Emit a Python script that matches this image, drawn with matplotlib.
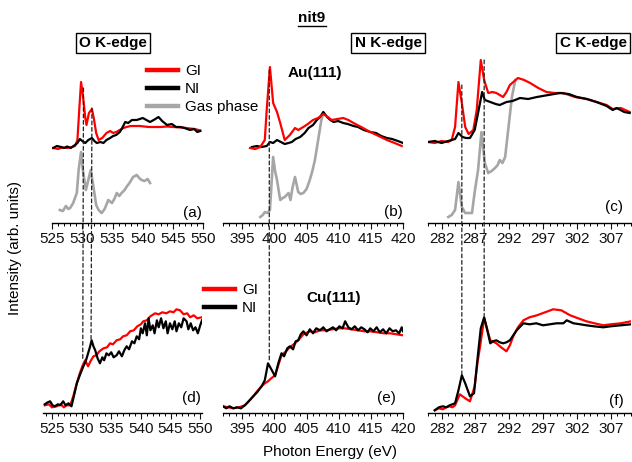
import matplotlib
matplotlib.use("Agg")
import matplotlib.pyplot as plt
from matplotlib.patches import ConnectionPatch
from matplotlib.lines import Line2D
from matplotlib.ticker import MultipleLocator

plt.rcParams['font.family'] = ['Liberation Sans', 'DejaVu Sans']

# ---------------- data (arbitrary units) ----------------
# O K-edge, Au(111)
o_au_gi_e = [525.2, 526.0, 526.7, 527.5, 528.3, 528.8, 529.2, 529.5, 529.8, 530.1, 530.5, 530.7, 531.1,
             531.6, 531.9, 532.3, 532.7, 533.3, 534.0, 534.6, 535.1, 535.6, 536.2, 536.8, 537.3, 538.0,
             539.5, 541.0, 542.9, 544.0, 545.0, 546.5, 547.8, 548.6, 549.5]
o_au_gi_i = [0.75, 0.74, 0.755, 0.75, 0.76, 0.77, 0.83, 1.13, 1.41, 1.28, 1.05, 0.98, 1.10,
             1.14, 1.05, 0.90, 0.83, 0.85, 0.90, 0.92, 0.90, 0.91, 0.93, 0.95, 0.96, 0.97,
             0.97, 0.96, 0.96, 0.965, 0.96, 0.955, 0.945, 0.94, 0.925]
o_au_ni_e = [525.2, 525.8, 526.5, 527.0, 527.5, 528.1, 528.8, 529.2, 529.6, 530.0, 530.5, 531.0, 531.6,
             532.0, 532.4, 533.0, 533.5, 534.0, 534.6, 535.1, 535.6, 536.2, 536.6, 537.1, 537.6, 538.2,
             539.0, 539.5, 540.0, 540.6, 541.2, 541.8, 542.6, 543.2, 544.0, 544.8, 545.5, 546.2, 546.9,
             547.8, 548.5, 549.0, 549.5]
o_au_ni_i = [0.75, 0.77, 0.76, 0.75, 0.765, 0.75, 0.78, 0.80, 0.84, 0.82, 0.80, 0.83, 0.85,
             0.82, 0.80, 0.81, 0.80, 0.83, 0.85, 0.87, 0.88, 0.91, 0.95, 1.01, 1.00, 1.03,
             1.03, 1.04, 1.05, 1.03, 1.01, 1.03, 1.06, 1.02, 0.98, 0.99, 0.96, 0.96, 0.95,
             0.93, 0.94, 0.91, 0.92]
o_gas_e = [526.3, 526.8, 527.3, 527.7, 528.0, 528.5, 529.1, 529.4, 529.8, 530.1, 530.6, 531.0, 531.4,
           531.8, 532.3, 532.7, 533.2, 533.7, 534.3, 534.9, 535.3, 535.7, 536.1, 536.5, 537.0, 537.3,
           537.8, 538.4, 539.0, 539.4, 539.8, 540.3, 540.8, 541.2]
o_gas_i = [0.13, 0.12, 0.17, 0.14, 0.15, 0.20, 0.30, 0.53, 0.71, 0.53, 0.33, 0.43, 0.53,
           0.38, 0.18, 0.13, 0.10, 0.14, 0.23, 0.20, 0.24, 0.30, 0.27, 0.30, 0.33, 0.36,
           0.40, 0.46, 0.48, 0.45, 0.43, 0.42, 0.44, 0.40]

# N K-edge, Au(111)
n_au_gi_e = [396.2, 397.0, 397.8, 398.5, 398.8, 399.3, 399.8, 400.4, 400.9, 401.6, 402.4, 403.2, 403.7,
             404.5, 405.2, 406.0, 406.8, 407.6, 408.3, 408.9, 409.8, 410.7, 411.5, 412.3, 413.5, 414.9,
             416.2, 417.5, 418.7, 419.8]
n_au_gi_i = [0.75, 0.74, 0.76, 0.83, 1.13, 1.56, 1.20, 1.11, 1.00, 0.83, 0.88, 0.95, 0.93,
             0.96, 0.99, 1.03, 1.05, 1.09, 1.06, 1.03, 1.04, 1.05, 1.03, 1.00, 0.96, 0.91,
             0.87, 0.83, 0.80, 0.77]
n_au_ni_e = [396.5, 397.3, 398.0, 398.8, 399.3, 399.8, 400.4, 401.0, 401.6, 402.2, 402.7, 403.3, 404.0,
             404.7, 405.3, 406.0, 406.6, 407.1, 407.6, 408.2, 408.7, 409.2, 409.9, 410.7, 411.4, 412.3,
             413.0, 413.9, 414.9, 415.8, 416.6, 417.5, 418.3, 419.2, 420.0]
n_au_ni_i = [0.76, 0.77, 0.76, 0.77, 0.81, 0.80, 0.83, 0.81, 0.79, 0.80, 0.81, 0.84, 0.86,
             0.90, 0.95, 0.98, 1.03, 1.06, 1.11, 1.06, 1.03, 1.01, 1.02, 1.00, 0.99, 0.97,
             0.96, 0.93, 0.91, 0.90, 0.87, 0.85, 0.84, 0.82, 0.80]
n_gas_e = [397.8, 398.2, 398.5, 398.9, 399.3, 399.8, 400.1, 400.4, 400.9, 401.3, 401.6, 402.2, 402.5,
           402.8, 403.2, 403.7, 404.1, 404.5, 405.0, 405.5, 405.9, 406.3, 406.8, 407.3, 407.6]
n_gas_i = [0.06, 0.08, 0.11, 0.10, 0.13, 0.66, 0.52, 0.43, 0.23, 0.25, 0.26, 0.30, 0.23,
           0.35, 0.46, 0.31, 0.29, 0.30, 0.34, 0.43, 0.52, 0.63, 0.83, 1.03, 1.10]

# C K-edge, Au(111)
c_au_gi_e = [280.0, 281.0, 282.0, 283.0, 283.5, 284.0, 284.5, 285.0, 285.5, 286.0, 286.7, 287.2, 287.8,
             288.3, 288.9, 289.5, 290.1, 290.6, 291.1, 291.6, 292.1, 293.3, 294.2, 295.1, 296.3, 297.5,
             298.7, 300.0, 301.7, 303.4, 304.9, 306.4, 307.3, 308.5, 309.8]
c_au_gi_i = [0.81, 0.80, 0.82, 0.81, 0.83, 0.96, 1.41, 1.20, 0.96, 0.89, 0.93, 1.13, 1.63,
             1.43, 1.30, 1.31, 1.30, 1.28, 1.26, 1.31, 1.38, 1.45, 1.43, 1.40, 1.35, 1.31,
             1.30, 1.30, 1.26, 1.24, 1.21, 1.18, 1.14, 1.15, 1.11]
c_au_ni_e = [280.0, 281.0, 282.0, 283.0, 283.5, 284.0, 284.5, 285.1, 285.6, 286.2, 286.9, 287.4, 288.0,
             288.4, 289.2, 290.0, 290.6, 291.6, 292.5, 293.6, 294.8, 296.1, 297.8, 299.5, 300.8, 302.0,
             303.5, 304.9, 306.4, 307.3, 307.9, 309.0, 309.8]
c_au_ni_i = [0.81, 0.82, 0.80, 0.82, 0.83, 0.84, 0.90, 0.86, 0.85, 0.85, 0.93, 1.10, 1.31,
             1.23, 1.21, 1.19, 1.18, 1.21, 1.22, 1.25, 1.24, 1.26, 1.28, 1.30, 1.29, 1.26,
             1.24, 1.21, 1.17, 1.13, 1.15, 1.11, 1.10]
c_gas_e = [283.0, 283.5, 284.0, 284.5, 285.0, 285.5, 286.0, 286.5, 286.9, 287.4, 287.9, 288.4, 288.9,
           289.4, 289.9, 290.3, 290.6, 291.0, 291.4, 291.9, 292.4, 292.9]
c_gas_i = [0.06, 0.08, 0.13, 0.41, 0.16, 0.10, 0.10, 0.10, 0.31, 0.53, 0.91, 0.60, 0.50,
           0.52, 0.55, 0.58, 0.63, 0.60, 0.66, 0.96, 1.26, 1.43]

# O K-edge, Cu(111)
o_cu_gi_e = [523.8, 524.5, 525.0, 525.8, 526.5, 527.0, 527.5, 528.1, 528.6, 529.2, 529.7, 530.2, 530.6,
             531.1, 531.5, 532.0, 532.5, 533.0, 533.7, 534.3, 534.8, 535.3, 535.9, 536.5, 537.0, 537.6,
             538.2, 538.8, 539.4, 540.0, 540.4, 541.0, 541.6, 542.4, 543.0, 543.6, 544.3, 544.9, 545.5,
             546.0, 546.6, 547.2, 547.8, 548.3, 548.9, 549.5, 550.3]
o_cu_gi_i = [0.08, 0.09, 0.06, 0.07, 0.09, 0.06, 0.08, 0.08, 0.17, 0.30, 0.40, 0.48, 0.53,
             0.47, 0.52, 0.57, 0.58, 0.62, 0.65, 0.66, 0.70, 0.69, 0.73, 0.74, 0.77, 0.78,
             0.82, 0.83, 0.87, 0.89, 0.92, 0.93, 0.97, 1.00, 0.99, 1.01, 1.00, 1.02, 1.01,
             1.04, 1.03, 0.99, 1.00, 0.96, 0.98, 0.95, 0.96]
o_cu_ni_e = [523.8, 524.3, 524.7, 525.1, 525.5, 526.0, 526.4, 526.9, 527.3, 527.8, 528.3, 528.7, 529.2,
             529.7, 530.3, 530.7, 531.1, 531.4, 531.7, 532.0, 532.3, 532.7, 533.1, 533.5, 533.8, 534.2,
             534.6, 535.0, 535.4, 535.9, 536.3, 536.8, 537.2, 537.6, 538.0, 538.5, 538.9, 539.3, 539.7,
             540.0, 540.3, 540.7, 541.0, 541.3, 541.6, 542.0, 542.3, 542.7, 543.0, 543.4, 543.8, 544.2,
             544.5, 544.9, 545.3, 545.7, 546.0, 546.4, 546.8, 547.2, 547.7, 548.0, 548.4, 548.8, 549.2,
             549.6, 550.0, 550.3]
o_cu_ni_i = [0.09, 0.11, 0.12, 0.08, 0.07, 0.09, 0.08, 0.12, 0.08, 0.10, 0.07, 0.17, 0.30,
             0.38, 0.47, 0.52, 0.60, 0.66, 0.73, 0.67, 0.63, 0.55, 0.50, 0.56, 0.53, 0.60,
             0.58, 0.61, 0.56, 0.58, 0.62, 0.57, 0.63, 0.67, 0.64, 0.72, 0.70, 0.77, 0.74,
             0.85, 0.80, 0.90, 0.78, 0.95, 0.83, 0.88, 0.80, 0.93, 0.86, 0.95, 0.85, 0.92,
             0.80, 0.90, 0.84, 0.92, 0.82, 0.90, 0.86, 0.95, 0.92, 0.84, 0.90, 0.83, 0.86,
             0.80, 0.88, 0.93]

# N K-edge, Cu(111)
n_cu_gi_e = [392.0, 392.8, 393.6, 394.5, 395.4, 396.0, 396.7, 397.3, 398.0, 398.5, 399.0, 399.5, 400.1,
             400.6, 401.1, 401.8, 402.4, 403.0, 403.7, 404.5, 405.5, 406.3, 407.1, 408.0, 409.0, 410.0,
             410.9, 412.0, 413.0, 414.0, 414.9, 416.0, 417.0, 418.0, 419.0, 420.0]
n_cu_gi_i = [0.07, 0.06, 0.05, 0.06, 0.08, 0.12, 0.17, 0.22, 0.27, 0.30, 0.32, 0.35, 0.38,
             0.48, 0.58, 0.62, 0.66, 0.69, 0.73, 0.79, 0.82, 0.81, 0.83, 0.83, 0.84, 0.85,
             0.85, 0.84, 0.83, 0.82, 0.82, 0.81, 0.80, 0.80, 0.79, 0.78]
n_cu_ni_e = [392.0, 392.5, 393.0, 393.6, 394.2, 394.8, 395.4, 396.0, 396.7, 397.3, 398.0, 398.5, 399.0,
             399.6, 400.1, 400.6, 401.1, 401.5, 402.0, 402.4, 402.9, 403.3, 403.7, 404.1, 404.5, 405.0,
             405.5, 406.0, 406.5, 407.1, 407.6, 408.1, 408.6, 409.1, 409.6, 410.1, 410.6, 411.0, 411.5,
             412.0, 412.5, 413.0, 413.5, 414.0, 414.5, 414.9, 415.4, 415.9, 416.4, 416.9, 417.4, 417.9,
             418.4, 418.9, 419.4, 419.8, 420.0]
n_cu_ni_i = [0.07, 0.05, 0.07, 0.05, 0.06, 0.05, 0.08, 0.12, 0.17, 0.21, 0.27, 0.33, 0.50,
             0.43, 0.37, 0.50, 0.60, 0.57, 0.65, 0.67, 0.64, 0.72, 0.73, 0.79, 0.82, 0.78,
             0.84, 0.80, 0.85, 0.83, 0.86, 0.82, 0.84, 0.86, 0.83, 0.87, 0.85, 0.92, 0.86,
             0.84, 0.87, 0.83, 0.86, 0.84, 0.81, 0.85, 0.82, 0.86, 0.81, 0.84, 0.80, 0.85,
             0.82, 0.83, 0.80, 0.86, 0.82]

# C K-edge, Cu(111)
c_cu_gi_e = [281.0, 281.6, 282.2, 282.7, 283.2, 283.6, 284.0, 284.7, 285.1, 285.5, 286.2, 286.9, 287.3,
             287.7, 288.3, 288.7, 289.2, 290.1, 290.8, 291.6, 292.1, 292.6, 293.3, 294.1, 295.0, 296.1,
             297.3, 298.5, 299.7, 301.0, 302.2, 303.4, 304.6, 305.9, 307.0, 308.5, 310.0]
c_cu_gi_i = [0.03, 0.05, 0.04, 0.06, 0.07, 0.06, 0.08, 0.19, 0.17, 0.15, 0.12, 0.27, 0.50,
             0.67, 0.95, 0.85, 0.73, 0.70, 0.66, 0.62, 0.68, 0.77, 0.86, 0.93, 0.96, 0.98,
             1.01, 1.04, 1.03, 0.98, 0.95, 0.92, 0.90, 0.88, 0.89, 0.90, 0.92]
c_cu_ni_e = [281.0, 281.6, 282.2, 282.7, 283.2, 283.6, 284.0, 284.5, 285.0, 285.5, 286.2, 286.8, 287.4,
             287.8, 288.3, 288.7, 289.2, 289.6, 290.1, 290.6, 291.1, 291.6, 292.1, 293.1, 294.1, 295.0,
             296.0, 297.0, 298.0, 299.0, 300.0, 300.5, 301.5, 302.5, 303.4, 304.5, 305.9, 307.0, 308.5,
             310.0]
c_cu_ni_i = [0.03, 0.06, 0.07, 0.06, 0.08, 0.09, 0.10, 0.23, 0.38, 0.30, 0.17, 0.20, 0.60,
             0.85, 0.96, 0.85, 0.70, 0.72, 0.73, 0.71, 0.70, 0.71, 0.73, 0.83, 0.90, 0.89,
             0.90, 0.88, 0.89, 0.90, 0.90, 0.93, 0.90, 0.89, 0.88, 0.87, 0.86, 0.87, 0.88,
             0.89]

# dashed marker positions (energy, top-panel intensity, bottom-panel intensity)
o_marks = [(530.2, 1.35, 0.53), (531.6, 1.15, 0.73)]
n_marks = [(399.2, 1.53, 0.52)]
c_marks = [(285.0, 1.38, 0.38), (288.3, 1.63, 0.97)]

o_ticks = [525, 530, 535, 540, 545, 550]
n_ticks = [395, 400, 405, 410, 415, 420]
c_ticks = [282, 287, 292, 297, 302, 307]

RED, BLACK, GRAY = '#ff0000', '#000000', '#a6a6a6'
LW = 1.6

# ---------------- figure ----------------
W, H = 632, 462
fig = plt.figure(figsize=(W / 100, H / 100), dpi=100)


def px_axes(x0, x1, ytop, ybot):
    return fig.add_axes([x0 / W, 1 - ybot / H, (x1 - x0) / W, (ybot - ytop) / H])


def style(ax, xlim, ylim, ticks):
    ax.set_xlim(*xlim)
    ax.set_ylim(*ylim)
    for s in ('top', 'left', 'right'):
        ax.spines[s].set_visible(False)
    ax.spines['bottom'].set_linewidth(1.0)
    ax.set_yticks([])
    ax.set_xticks(ticks)
    ax.set_xticklabels([str(t) for t in ticks])
    ax.xaxis.set_minor_locator(MultipleLocator(1))
    ax.tick_params(axis='x', which='major', direction='out', length=4.5, width=0.8,
                   labelsize=11, pad=2, colors='#111111')
    ax.tick_params(axis='x', which='minor', direction='out', length=2.5, width=0.7)
    ax.patch.set_alpha(0)


top_ylim = (0, 1.73)
bot_ylim = (0, 1.583)

ax_a = px_axes(52, 203.3, 50, 223)
ax_b = px_axes(223, 403, 50, 223)
ax_c = px_axes(428, 631, 50, 223)
ax_d = px_axes(43, 202, 255, 413.3)
ax_e = px_axes(223, 403, 255, 413.3)
ax_f = px_axes(428, 631, 255, 413.3)

style(ax_a, (525, 550), top_ylim, o_ticks)
style(ax_b, (392, 420), top_ylim, n_ticks)
style(ax_c, (280, 310), top_ylim, c_ticks)
style(ax_d, (523.5, 550.3), bot_ylim, o_ticks)
style(ax_e, (392, 420), bot_ylim, n_ticks)
style(ax_f, (280, 310), bot_ylim, c_ticks)

# top row
ax_a.plot(o_gas_e, o_gas_i, color=GRAY, lw=1.9, zorder=2)
ax_a.plot(o_au_gi_e, o_au_gi_i, color=RED, lw=LW, zorder=3)
ax_a.plot(o_au_ni_e, o_au_ni_i, color=BLACK, lw=LW, zorder=4)

ax_b.plot(n_gas_e, n_gas_i, color=GRAY, lw=1.9, zorder=2)
ax_b.plot(n_au_ni_e, n_au_ni_i, color=BLACK, lw=LW, zorder=3)
ax_b.plot(n_au_gi_e, n_au_gi_i, color=RED, lw=LW, zorder=4)

ax_c.plot(c_gas_e, c_gas_i, color=GRAY, lw=1.9, zorder=2)
ax_c.plot(c_au_gi_e, c_au_gi_i, color=RED, lw=LW, zorder=3)
ax_c.plot(c_au_ni_e, c_au_ni_i, color=BLACK, lw=LW, zorder=4)

# bottom row
ax_d.plot(o_cu_gi_e, o_cu_gi_i, color=RED, lw=LW, zorder=3)
ax_d.plot(o_cu_ni_e, o_cu_ni_i, color=BLACK, lw=LW, zorder=4)
ax_e.plot(n_cu_gi_e, n_cu_gi_i, color=RED, lw=LW, zorder=3)
ax_e.plot(n_cu_ni_e, n_cu_ni_i, color=BLACK, lw=LW, zorder=4)
ax_f.plot(c_cu_gi_e, c_cu_gi_i, color=RED, lw=LW, zorder=3)
ax_f.plot(c_cu_ni_e, c_cu_ni_i, color=BLACK, lw=LW, zorder=4)

# dashed guide lines crossing both rows
for marks, at, ab in ((o_marks, ax_a, ax_d), (n_marks, ax_b, ax_e), (c_marks, ax_c, ax_f)):
    for e, yt, yb in marks:
        con = ConnectionPatch(xyA=(e, yt), coordsA=at.transData,
                              xyB=(e, yb), coordsB=ab.transData,
                              color='#222222', lw=0.9, linestyle=(0, (3.0, 2.2)), zorder=10)
        fig.add_artist(con)


def ftext(x, y, s, **kw):
    return fig.text(x / W, 1 - y / H, s, **kw)


# panel letters
for (x, y, s) in ((202, 213, '(a)'), (403, 212, '(b)'), (623, 207, '(c)'),
                  (201, 398, '(d)'), (396, 398, '(e)'), (624, 401, '(f)')):
    ftext(x, y, s, fontsize=11, ha='right', va='center')

# headers
t = ftext(312, 18, 'nit9', fontsize=11, fontweight='bold', ha='center', va='center')
for (x, s) in ((113, 'O K-edge'), (388, 'N K-edge'), (593, 'C K-edge')):
    ftext(x, 43, s, fontsize=11, fontweight='bold', ha='center', va='center',
          bbox=dict(boxstyle='square,pad=0.22', fc='white', ec='black', lw=1.0))
ftext(315, 73, 'Au(111)', fontsize=11, fontweight='bold', ha='center', va='center')
ftext(334, 298, 'Cu(111)', fontsize=11, fontweight='bold', ha='center', va='center')

ftext(15, 248, 'Intensity (arb. units)', fontsize=11, rotation=90, ha='center', va='center')
ftext(330, 452, 'Photon Energy (eV)', fontsize=11, ha='center', va='center')

# legends
h_gi = Line2D([], [], color=RED, lw=3.2)
h_ni = Line2D([], [], color=BLACK, lw=3.2)
h_gas = Line2D([], [], color=GRAY, lw=3.2)
fig.legend([h_gi, h_ni, h_gas], ['GI', 'NI', 'Gas phase'], loc='upper left',
           bbox_to_anchor=(147 / W, 1 - 64 / H), frameon=False, fontsize=11,
           handlelength=2.0, handletextpad=0.5, labelspacing=0.27,
           borderpad=0, borderaxespad=0)
fig.legend([h_gi, h_ni], ['GI', 'NI'], loc='upper left',
           bbox_to_anchor=(204 / W, 1 - 283 / H), frameon=False, fontsize=11,
           handlelength=2.0, handletextpad=0.5, labelspacing=0.27,
           borderpad=0, borderaxespad=0)

# underline for title
fig.canvas.draw()
bb = t.get_window_extent()
fig.add_artist(Line2D([bb.x0 / W, bb.x1 / W], [(bb.y0 - 0.5) / H, (bb.y0 - 0.5) / H],
                      transform=fig.transFigure, color='black', lw=1.0))

fig.savefig('out.png', dpi=100)
